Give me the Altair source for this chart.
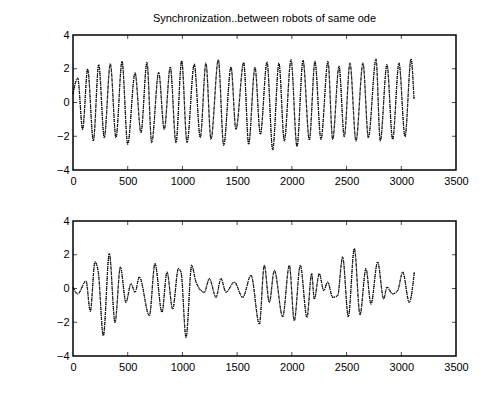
import altair as alt
import pandas as pd

TITLE = "Synchronization..between robots of same ode"

x_ticks = [0, 500, 1000, 1500, 2000, 2500, 3000, 3500]
y_ticks = [-4, -2, 0, 2, 4]

top_x = [0, 43, 88, 134, 186, 235, 286, 341, 393, 448, 500, 567, 621, 676, 719,
         783, 834, 889, 941, 993, 1042, 1108, 1163, 1215, 1261, 1328, 1377, 1444,
         1489, 1560, 1605, 1663, 1712, 1773, 1825, 1882, 1931, 1992, 2047, 2102,
         2160, 2211, 2266, 2330, 2373, 2431, 2479, 2531, 2586, 2650, 2699, 2769,
         2808, 2869, 2921, 2979, 3034, 3089, 3116]
top_y = [0.5, 1.45, -1.59, 1.98, -2.27, 2.24, -2.08, 2.29, -2.08, 2.43, -2.47, 1.75,
         -1.78, 2.37, -2.37, 1.78, -1.59, 2.1, -2.37, 2.47, -2.37, 2.27, -2.08, 2.33,
         -2.18, 2.53, -2.53, 2.1, -1.59, 2.37, -2.47, 2.08, -1.88, 2.39, -2.8, 2.33,
         -2.27, 2.53, -2.61, 2.49, -2.22, 2.43, -2.18, 2.43, -2.18, 2.14, -2.02, 2.33,
         -2.27, 2.33, -2.08, 2.57, -2.27, 2.24, -2.18, 2.33, -2.02, 2.57, 0.2]

bot_x = [0, 43, 119, 158, 201, 231, 277, 332, 384, 433, 484, 530, 567, 606, 698,
         749, 813, 859, 911, 963, 987, 1033, 1085, 1124, 1200, 1246, 1307, 1352,
         1398, 1474, 1551, 1627, 1703, 1748, 1794, 1840, 1916, 1977, 2022, 2077,
         2138, 2181, 2205, 2251, 2291, 2327, 2373, 2418, 2464, 2516, 2571, 2623,
         2677, 2723, 2784, 2839, 2869, 2921, 2967, 3013, 3073, 3119]
bot_y = [0.08, -0.32, 0.44, -1.35, 1.57, 0.97, -2.8, 2.07, -2.01, 1.27, -0.82, 0.28,
         -0.22, 0.68, -1.61, 1.47, -1.41, 0.97, -1.21, 1.17, 0.97, -2.9, 1.37, 0.38,
         -0.22, 0.58, -0.52, 0.58, -0.22, 0.38, -0.52, 0.78, -2.11, 1.37, -0.82, 1.07,
         -1.67, 1.37, -1.91, 1.37, -1.71, 0.88, -0.62, 0.88, -0.12, 0.38, -0.52, -0.42,
         1.87, -1.67, 2.37, -1.55, 1.17, -0.92, 1.57, -0.62, 0.08, -0.32, -0.12, 0.97,
         -0.82, 0.97]

FONT = "Liberation Sans"
W, H = 383, 135

xs = alt.Scale(domain=[0, 3500], nice=False)
ys = alt.Scale(domain=[-4, 4], nice=False)

XAXIS = alt.Axis(values=x_ticks, ticks=False, grid=False, domain=False,
                 labelFont=FONT, labelFontSize=11, labelColor="black",
                 labelPadding=5, minExtent=18, maxExtent=18, labelFlush=False,
                 labelOverlap=False, format="d")
YAXIS = alt.Axis(values=y_ticks, ticks=False, grid=False, domain=False,
                 labelFont=FONT, labelFontSize=11, labelColor="black",
                 labelPadding=4, minExtent=64, maxExtent=64,
                 labelOverlap=False, labelFlush=False, format="d")


def X(f):
    return alt.X(f, scale=xs, axis=XAXIS, title=None)


def Y(f):
    return alt.Y(f, scale=ys, axis=YAXIS, title=None)


def panel(xv, yv, title=None):
    df = pd.DataFrame({"x": xv, "y": yv})
    base = alt.Chart(df)
    l1 = base.mark_line(color="black", strokeWidth=1.3, strokeDash=[1, 1],
                        interpolate="monotone").encode(x=X("x:Q"), y=Y("y:Q"))
    l2 = base.mark_line(color="black", strokeWidth=1.0, strokeDash=[3, 2],
                        interpolate="monotone", opacity=0.8).encode(x=X("x:Q"), y=Y("y:Q"))
    xt = pd.DataFrame({"t": x_ticks[1:-1]})
    yt = pd.DataFrame({"t": y_ticks[1:-1]})
    tb = alt.Chart(xt).mark_tick(color="black", thickness=1, size=4,
                                 orient="vertical").encode(x=X("t:Q"), y=alt.value(2))
    tbb = alt.Chart(xt).mark_tick(color="black", thickness=1, size=4,
                                  orient="vertical").encode(x=X("t:Q"), y=alt.value(H - 2))
    tl = alt.Chart(yt).mark_tick(color="black", thickness=1, size=4,
                                 orient="horizontal").encode(y=Y("t:Q"), x=alt.value(2))
    tr = alt.Chart(yt).mark_tick(color="black", thickness=1, size=4,
                                 orient="horizontal").encode(y=Y("t:Q"), x=alt.value(W - 2))
    ch = alt.layer(l1, l2, tb, tbb, tl, tr).properties(width=W, height=H)
    if title:
        ch = ch.properties(title=alt.TitleParams(
            title, font=FONT, fontSize=11, fontWeight="normal", color="black",
            offset=5, anchor="middle"))
    return ch


top = panel(top_x, top_y, TITLE)
bot = panel(bot_x, bot_y)

chart = alt.vconcat(top, bot, spacing=25).properties(
    padding={"left": 0, "top": 4, "right": 10, "bottom": 5},
    background="white"
).configure_view(stroke="black", strokeWidth=1.5)

chart.save("out.html", embed_options={"renderer": "svg", "actions": False})
